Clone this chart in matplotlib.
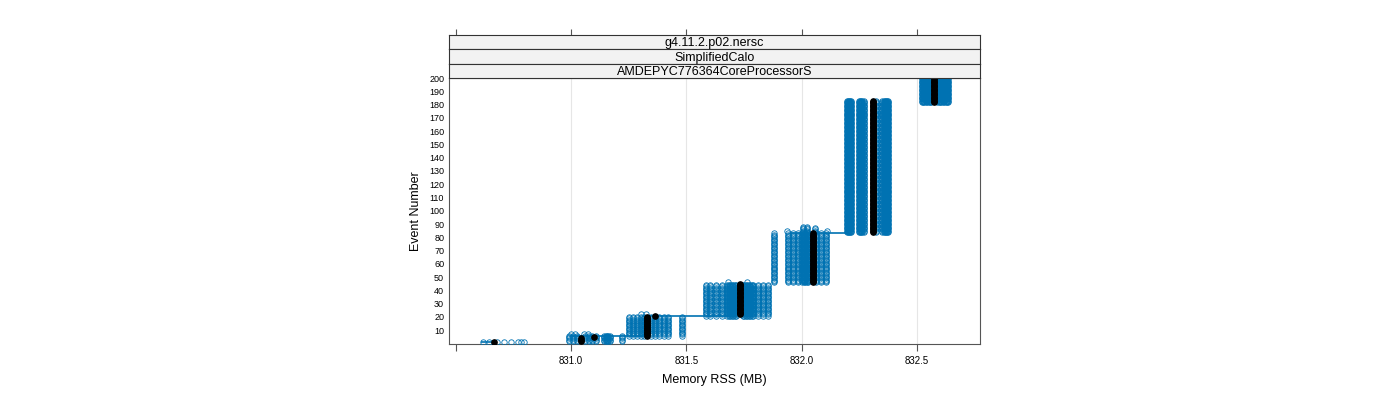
import matplotlib
matplotlib.use('Agg')
import matplotlib.pyplot as plt
import numpy as np

plt.rcParams['font.family'] = ['Liberation Sans', 'DejaVu Sans']

# strip labels (top to bottom)
strip_labels = ['g4.11.2.p02.nersc', 'SimplifiedCalo', 'AMDEPYC776364CoreProcessorS']

# axis ticks
x_ticks = [830.5, 831.0, 831.5, 832.0, 832.5]
x_tick_labels = ['', '831.0', '831.5', '832.0', '832.5']
y_ticks = list(range(10, 201, 10))

# blue runs: events first..last seen at these RSS columns (MB)
blue_first = [1, 2, 7, 6, 22, 21, 46, 46, 46, 84, 84, 85, 84, 182]
blue_last = [1, 6, 7, 20, 22, 44, 46, 83, 83, 88, 87, 85, 183, 200]
blue_rss = [
    [830.619, 830.645, 830.679, 830.710, 830.740, 830.770, 830.785, 830.797],
    [830.991, 831.009, 831.026, 831.061, 831.078, 831.091, 831.108,
     831.143, 831.150, 831.156, 831.162, 831.169, 831.221],
    [831.000, 831.017, 831.056, 831.074],
    [831.251, 831.269, 831.286, 831.303, 831.316, 831.347, 831.364,
     831.381, 831.403, 831.420, 831.481],
    [831.303, 831.325],
    [831.585, 831.603, 831.629, 831.655, 831.676, 831.683, 831.689,
     831.696, 831.702, 831.709, 831.715, 831.744, 831.750, 831.757,
     831.763, 831.770, 831.776, 831.783, 831.789, 831.811, 831.832, 831.854],
    [831.681, 831.763],
    [831.880],
    [831.941, 831.962, 831.984, 832.001, 832.008, 832.014, 832.021,
     832.027, 832.062, 832.084, 832.105],
    [832.006, 832.023],
    [832.058],
    [831.936, 832.110],
    [832.195, 832.200, 832.205, 832.210, 832.214, 832.248, 832.253,
     832.258, 832.263, 832.268, 832.320, 832.350, 832.355, 832.360,
     832.365, 832.370, 832.375],
    [832.521, 832.526, 832.532, 832.538, 832.545, 832.551, 832.557,
     832.562, 832.588, 832.594, 832.600, 832.606, 832.612, 832.618,
     832.624, 832.630, 832.634],
]

# black (highlighted) run: events first..last at one RSS value
black_first = [1, 2, 5, 6, 21, 22, 46, 84, 182]
black_last = [1, 4, 5, 20, 21, 45, 83, 183, 200]
black_rss = [830.666, 831.045, 831.100, 831.329, 831.364, 831.733,
             832.047, 832.309, 832.573]

# step line levels (event) and RSS span
step_event = [1, 5.5, 20.6, 83.3]
step_from = [830.610, 830.995, 831.320, 831.950]
step_to = [830.658, 831.342, 831.690, 832.200]

blue = '#0072B2'
frame = '#555555'

fig = plt.figure(figsize=(14, 4), dpi=100)
ax = fig.add_axes([449 / 1400, 56.5 / 400, 531 / 1400, 265.5 / 400])

for x in x_ticks[1:]:
    ax.axvline(x, color='#e6e6e6', lw=0.8, zorder=0)

ax.hlines(step_event, step_from, step_to, color=blue, lw=1.2, zorder=2)

for first, last, cols in zip(blue_first, blue_last, blue_rss):
    ev = np.arange(first, last + 1)
    for x in cols:
        ax.plot(np.full(len(ev), x), ev, 'o', ms=3.9, mfc='none', mec=blue,
                mew=0.6, zorder=3)

for first, last, x in zip(black_first, black_last, black_rss):
    ev = np.arange(first, last + 1)
    ax.plot(np.full(len(ev), x), ev, 'o', ms=3.8, color='black', zorder=4)

ax.set_xlim(830.471, 832.773)
ax.set_ylim(0, 200)
ax.set_xticks(x_ticks)
ax.set_xticklabels(x_tick_labels)
ax.set_yticks(y_ticks)
ax.tick_params(axis='x', length=5, width=0.8, color=frame, labelsize=7, pad=4)
ax.tick_params(axis='y', length=0, labelsize=6.5, pad=3.5)
for s in ax.spines.values():
    s.set_color(frame)
    s.set_linewidth(0.8)
ax.set_xlabel('Memory RSS (MB)', fontsize=9, labelpad=6)
ax.set_ylabel('Event Number', fontsize=9, labelpad=5)

# strips
strip_top = 35
strip_h = 14.33
for i, lab in enumerate(strip_labels):
    top = strip_top + i * strip_h
    sax = fig.add_axes([449 / 1400, (400 - top - strip_h) / 400,
                        531 / 1400, strip_h / 400])
    sax.set_facecolor('#f2f2f2')
    sax.set_xlim(ax.get_xlim())
    sax.set_yticks([])
    sax.text(0.5, 0.42, lab, ha='center', va='center', fontsize=9,
             transform=sax.transAxes)
    for s in sax.spines.values():
        s.set_color('#333333')
        s.set_linewidth(0.8)
    if i == 0:
        sax.set_xticks(x_ticks)
        sax.tick_params(axis='x', bottom=False, top=True, labelbottom=False,
                        length=4.5, width=0.8, color=frame)
    else:
        sax.set_xticks([])

fig.savefig('out.png', dpi=100)
